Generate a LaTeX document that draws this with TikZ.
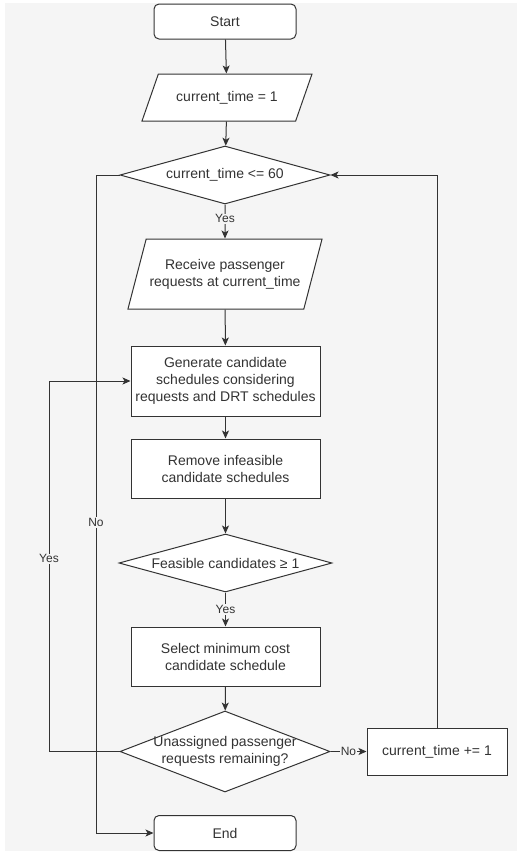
\documentclass[tikz,border=0pt]{standalone}
\usepackage{fontspec}
\setmainfont{Liberation Sans}
\usepackage{xcolor}
\usepackage{tikz}
\usetikzlibrary{shapes.geometric,arrows.meta,calc}
\definecolor{bgcol}{HTML}{F5F5F5}
\definecolor{inkcol}{HTML}{333333}

\tikzset{
	base/.style={draw=inkcol, fill=white, text=inkcol, line width=1pt,
		font=\fontsize{14}{17}\selectfont, align=center},
	terminal/.style={base, rectangle, rounded corners=5pt,
		minimum width=142pt, minimum height=35pt},
	io/.style={base, trapezium, trapezium left angle=70,
		trapezium right angle=110, trapezium stretches body=true},
	process/.style={base, rectangle, inner xsep=2pt, minimum width=189pt},
	decision/.style={base, diamond, inner sep=0pt},
	flow/.style={draw=inkcol, line width=1pt, ->},
	edgelabel/.style={fill=bgcol, text=inkcol, inner sep=1pt,
		font=\fontsize{12}{14}\selectfont},
}

\begin{document}
\begin{tikzpicture}[x=1pt, y=-1pt, >={Stealth[length=8pt,width=7pt,inset=2pt]}]
	
	\useasboundingbox (0,0) rectangle (520,855);
	\fill[bgcol] (5,3) rectangle (517,851);
	
	\coordinate (nobend)  at (96,175);   % left "No" line
	\coordinate (yesbend) at (49,751.5); % left "Yes" line
	
	\node[terminal] (start) at (225,21.5) {Start};
	\node[io, inner ysep=16pt, minimum width=170pt, minimum height=47pt] (init) at (227,97.5) {current\_time = 1};
	\node[decision, shape aspect=3.62, minimum width=210pt, minimum height=58pt] (check) at (225,175) {current\_time <= 60};
	\node[io, trapezium left angle=75, trapezium right angle=105, inner ysep=19pt, minimum width=188pt, minimum height=70pt] (receive) at (225,274) {Receive passenger\\requests at current\_time};
	\node[process, minimum height=70pt] (generate) at (225.5,381) {Generate candidate\\schedules considering\\requests and DRT schedules};
	\node[process, minimum height=59pt] (remove) at (225.5,468.5) {Remove infeasible\\candidate schedules};
	\node[decision, shape aspect=3.67, minimum width=213pt, minimum height=58pt] (feasible) at (225.5,563) {Feasible candidates ≥ 1};
	\node[process, minimum height=59pt] (select) at (225.5,656.5) {Select minimum cost\\candidate schedule};
	\node[decision, shape aspect=2.59, minimum width=210pt, minimum height=81pt, inner sep=-3pt] (unassigned) at (225,751.5) {Unassigned passenger\\requests remaining?};
	\node[process, minimum width=140pt, minimum height=47pt] (advance) at (437,751.5) {current\_time += 1};
	\node[terminal] (end) at (225,833) {End};
	
	\draw[flow] (start) -- (init);
	\draw[flow] (init) -- (check);
	\draw[flow] (check.south) -- (receive.north) node[edgelabel, pos=0.42]{Yes};
	\draw[flow] (receive) -- (generate);
	\draw[flow] (generate) -- (remove);
	\draw[flow] (remove) -- (feasible);
	\draw[flow] (feasible.south) -- (select.north) node[edgelabel, pos=0.5]{Yes};
	\draw[flow] (select) -- (unassigned);
	\draw[flow] (unassigned.east) -- (advance.west) node[edgelabel, midway]{No};
	\draw[flow] (advance.north) |- (check.east);
	\draw[flow] (unassigned.west) -- (yesbend) |- (generate.west) node[edgelabel, pos=0.26]{Yes};
	\draw[flow] (check.west) -- (nobend) |- (end.west) node[edgelabel, pos=0.264]{No};
	
\end{tikzpicture}
\end{document}
